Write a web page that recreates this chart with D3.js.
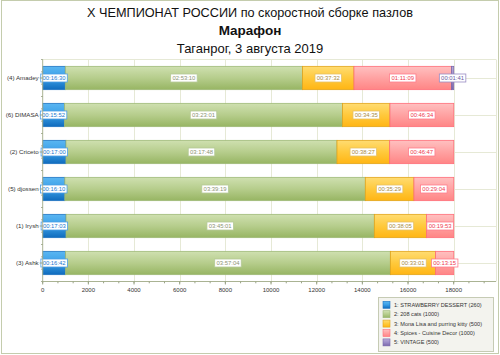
<!DOCTYPE html>
<html><head><meta charset="utf-8">
<script src="https://cdn.jsdelivr.net/npm/d3@7"></script>
<style>body{margin:0;background:#fff}svg{display:block}</style>
</head><body>
<svg id="c" width="500" height="355"></svg>
<script>
const categories = ["(4) Amadey","(6) DIMASA","(2) Criceto","(5) djossen","(1) Irysh","(3) Ashk"];
const seriesNames = ["1: STRAWBERRY DESSERT (260)","2: 208 cats (1000)","3: Mona Lisa and purring kitty (500)","4: Spices - Cuisine Decor (1000)","5: VINTAGE (500)"];
// durations in seconds per series (rows follow categories)
const s1 = [990, 952, 1020, 970, 1023, 1002];
const s2 = [10390, 12181, 11868, 13159, 13501, 14224];
const s3 = [2252, 2075, 2307, 2129, 2285, 1981];
const s4 = [4269, 2794, 2807, 1744, 1193, 795];
const s5 = [101, 0, 0, 0, 0, 0];
const xTicks = [0,2000,4000,6000,8000,10000,12000,14000,16000,18000];
const titles = ["X ЧЕМПИОНАТ РОССИИ по скоростной сборке пазлов","Марафон","Таганрог, 3 августа 2019"];

(function(){
const series = [s1,s2,s3,s4,s5];
const pal = [
  {t:"#5ab6f2",m:"#3a9fe6",b:"#0f6bbd",stroke:"#1f74c2",lb:"#4b9ee6",lt:"#1a78d0"},
  {t:"#cfe0b0",m:"#b6cd8c",b:"#97b563",stroke:"#9fb978",lb:"#b4c996",lt:"#8c9474"},
  {t:"#ffdc72",m:"#ffc93c",b:"#ffb514",stroke:"#e2a41a",lb:"#e6c064",lt:"#a88a40"},
  {t:"#ffc0c0",m:"#ffa2a2",b:"#ff8585",stroke:"#ff6d78",lb:"#ff7d8c",lt:"#ee3a4e"},
  {t:"#b8aad8",m:"#9c8cc8",b:"#7a68ac",stroke:"#7a68ac",lb:"#9a8cc4",lt:"#6a5aa0"}
];
function fmt(s){const h=Math.floor(s/3600),m=Math.floor(s%3600/60),ss=s%60;const p=v=>String(v).padStart(2,"0");return p(h)+":"+p(m)+":"+p(ss);}

const svg = d3.select("#c");
const font = "'Liberation Sans', Arial, sans-serif";
const defs = svg.append("defs");
pal.forEach((p,i)=>{
  const g = defs.append("linearGradient").attr("id","g"+i).attr("x1",0).attr("y1",0).attr("x2",0).attr("y2",1);
  g.append("stop").attr("offset","0%").attr("stop-color",p.t);
  g.append("stop").attr("offset","50%").attr("stop-color",p.m);
  g.append("stop").attr("offset","100%").attr("stop-color",p.b);
});

svg.append("rect").attr("x",1.5).attr("y",0.5).attr("width",497).attr("height",353).attr("fill","#fff").attr("stroke","#c4ccad");

svg.append("text").attr("x",250).attr("y",17).attr("text-anchor","middle").attr("font-family",font).attr("font-size",12.7).attr("fill","#111").text(titles[0]);
svg.append("text").attr("x",250).attr("y",35).attr("text-anchor","middle").attr("font-family",font).attr("font-size",13.5).attr("font-weight","bold").attr("fill","#111").text(titles[1]);
svg.append("text").attr("x",250).attr("y",53).attr("text-anchor","middle").attr("font-family",font).attr("font-size",13).attr("fill","#111").text(titles[2]);

const pl = 42.7, pr = 496, pt = 59.5, pb = 281.5;
const x = d3.scaleLinear().domain([0, 18000]).range([pl, 453.7]);
const y = d3.scaleBand().domain(categories).range([pt, pb]).paddingInner(0.37).paddingOuter(0.185);

const grid = svg.append("g");
xTicks.slice(1).forEach(t=>{
  grid.append("line").attr("x1",Math.round(x(t))+0.5).attr("x2",Math.round(x(t))+0.5).attr("y1",pt).attr("y2",pb).attr("stroke","#e6e9d6");
});
grid.append("line").attr("x1",pr+0.5).attr("x2",pr+0.5).attr("y1",pt).attr("y2",pb).attr("stroke","#e6e9d6");
categories.forEach(c=>{
  const yy = Math.round(y(c)+y.bandwidth()/2)+0.5;
  grid.append("line").attr("x1",pl).attr("x2",pr).attr("y1",yy).attr("y2",yy).attr("stroke","#e6e9d6");
});
grid.append("line").attr("x1",pl).attr("x2",pr).attr("y1",pt).attr("y2",pt).attr("stroke","#e6e9d6");

const bars = svg.append("g");
const labels = svg.append("g");
categories.forEach((c,ci)=>{
  let acc = 0;
  series.forEach((s,si)=>{
    const v = s[ci];
    if(!v){return;}
    const x0 = x(acc), x1 = x(acc+v);
    bars.append("rect").attr("x",x0).attr("y",y(c)).attr("width",x1-x0).attr("height",y.bandwidth())
      .attr("fill","url(#g"+si+")").attr("stroke",pal[si].stroke).attr("stroke-width",0.8);
    const cx = (x0+x1)/2, cy = y(c)+y.bandwidth()/2;
    const lg = labels.append("g");
    const w = 26.5, h = 8;
    lg.append("rect").attr("x",cx-w/2).attr("y",cy-h/2).attr("width",w).attr("height",h).attr("fill","#fff").attr("stroke",pal[si].lb).attr("stroke-width",0.8);
    lg.append("text").attr("x",cx).attr("y",cy+2).attr("text-anchor","middle").attr("font-family",font).attr("font-size",5.9).attr("fill",pal[si].lt).text(fmt(v));
    acc += v;
  });
});

const ax = svg.append("g");
ax.append("line").attr("x1",pl).attr("x2",pl).attr("y1",pt).attr("y2",pb).attr("stroke","#aab393");
const step = y.step();
categories.forEach(c=>{
  const yy = y(c)+y.bandwidth()/2;
  ax.append("line").attr("x1",pl-3).attr("x2",pl).attr("y1",yy).attr("y2",yy).attr("stroke","#9aa386");
  ax.append("text").attr("x",pl-4).attr("y",yy+2).attr("text-anchor","end").attr("font-family",font).attr("font-size",6.2).attr("fill","#333").text(c);
});
for(let i=0;i<=categories.length*3;i++){
  const yy = pt + i*step/3;
  if(yy>pb) break;
  ax.append("line").attr("x1",pl-1.5).attr("x2",pl).attr("y1",yy).attr("y2",yy).attr("stroke","#9aa386");
}
const bx = svg.append("g").attr("transform",`translate(0,${pb})`);
bx.append("line").attr("x1",pl).attr("x2",pr).attr("stroke","#aab393");
xTicks.forEach(t=>{
  bx.append("line").attr("x1",x(t)).attr("x2",x(t)).attr("y1",0).attr("y2",3).attr("stroke","#9aa386");
  bx.append("text").attr("x",x(t)).attr("y",10).attr("text-anchor","middle").attr("font-family",font).attr("font-size",6).attr("fill","#333").text(t);
});
for(let t=0;x(t)<pr;t+=2000/3){
  bx.append("line").attr("x1",x(t)).attr("x2",x(t)).attr("y1",0).attr("y2",1.8).attr("stroke","#9aa386");
}

const lgd = svg.append("g");
lgd.append("rect").attr("x",378.5).attr("y",297.5).attr("width",115).attr("height",54).attr("fill","#f3f3ee").attr("stroke","#c6cbb4");
seriesNames.forEach((n,i)=>{
  const yy = 304.8 + i*9.4;
  lgd.append("rect").attr("x",383).attr("y",yy-3.5).attr("width",7).attr("height",7).attr("fill","url(#g"+i+")").attr("stroke",pal[i].stroke).attr("stroke-width",0.6);
  lgd.append("text").attr("x",394).attr("y",yy+2).attr("font-family",font).attr("font-size",5.6).attr("fill","#333").text(n);
});
})();
</script>
</body></html>
